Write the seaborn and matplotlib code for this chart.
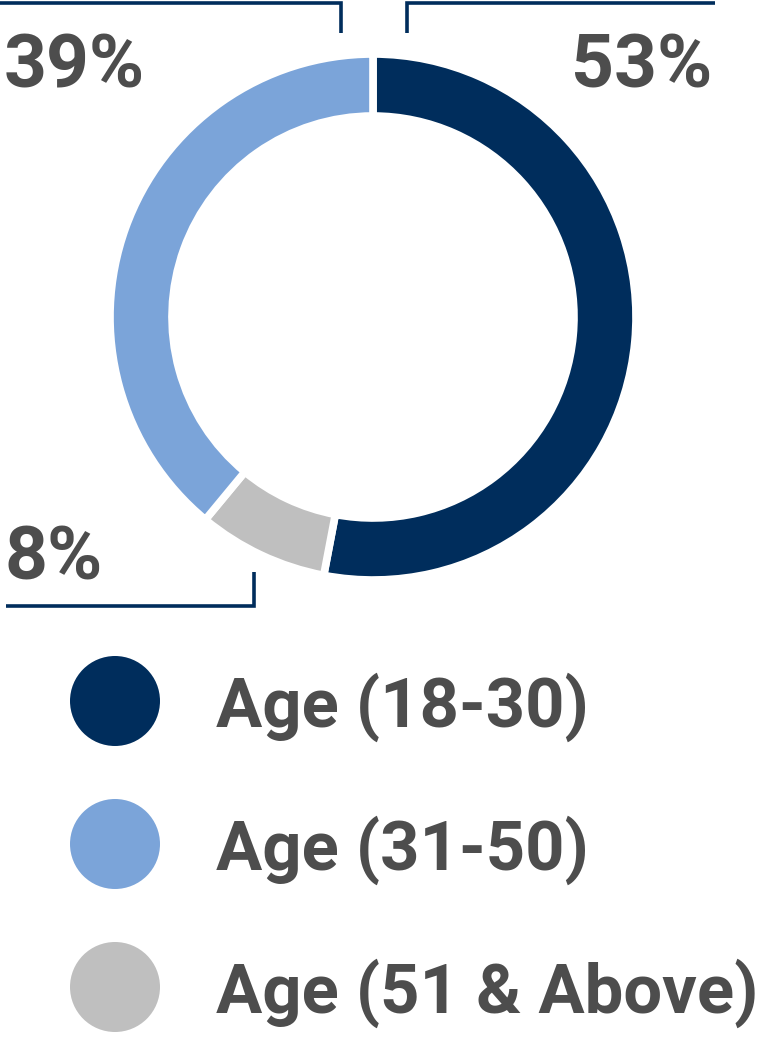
import matplotlib
matplotlib.use("Agg")
import matplotlib.pyplot as plt
import matplotlib.patches as mpatches
import seaborn as sns

# data
groups = ["Age (18-30)", "Age (51 & Above)", "Age (31-50)"]
shares = [53, 8, 39]
colors = ["#002d5c", "#bfbfbf", "#7ba4d9"]

legend_labels = ["Age (18-30)", "Age (31-50)", "Age (51 & Above)"]
legend_colors = ["#002d5c", "#7ba4d9", "#bfbfbf"]

sns.set_theme(style="white")
plt.rcParams["font.family"] = ["Roboto", "DejaVu Sans"]

W, H = 765, 1037
fig = plt.figure(figsize=(W / 100, H / 100), dpi=100)
ax = fig.add_axes([0, 0, 1, 1])

text_color = "#4d4d4d"
navy = "#002d5c"

# donut
cx, cy = 373, H - 317
ax.pie(
    shares,
    colors=colors,
    startangle=90,
    counterclock=False,
    center=(cx, cy),
    radius=263,
    wedgeprops=dict(width=62, edgecolor="white", linewidth=5.5),
)

# leader lines
line_kw = dict(color=navy, lw=2.6, solid_capstyle="butt", solid_joinstyle="miter")
ax.plot([0, 341, 341], [H - 3, H - 3, H - 33], **line_kw)
ax.plot([407, 407, 715], [H - 33, H - 3, H - 3], **line_kw)
ax.plot([6, 254, 254], [H - 606, H - 606, H - 572], **line_kw)

# percentage labels
lab_kw = dict(fontsize=54, fontweight="bold", color=text_color, va="baseline")
ax.text(4, H - 88, f"{shares[2]}%", ha="left", **lab_kw)
ax.text(712, H - 88, f"{shares[0]}%", ha="right", **lab_kw)
ax.text(4, H - 579, f"{shares[1]}%", ha="left", **lab_kw)

# legend
leg_kw = dict(fontsize=49.5, fontweight="bold", color=text_color, va="baseline")
for i, (lab, col) in enumerate(zip(legend_labels, legend_colors)):
    yc = H - (701 + i * 143)
    ax.add_patch(mpatches.Circle((115, yc), 45, color=col, lw=0))
    ax.text(216, yc - 26, lab, ha="left", **leg_kw)

ax.set_xlim(0, W)
ax.set_ylim(0, H)
ax.set_aspect("equal")
ax.axis("off")

fig.savefig("out.png", dpi=100)
